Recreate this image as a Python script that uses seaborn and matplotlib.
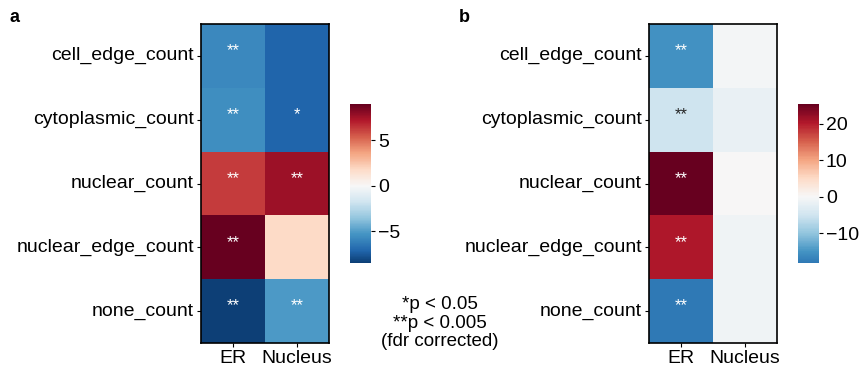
import numpy as np
import pandas as pd
import matplotlib
matplotlib.use("Agg")
import matplotlib.pyplot as plt
import seaborn as sns

rows = ["cell_edge_count", "cytoplasmic_count", "nuclear_count", "nuclear_edge_count", "none_count"]
cols = ["ER", "Nucleus"]

a_er = [-5.8, -5.6, 6.3, 9.0, -8.5]
a_nuc = [-7.2, -7.2, 7.7, 1.8, -5.1]
a_sig_er = ["**", "**", "**", "**", "**"]
a_sig_nuc = ["", "*", "**", "", "**"]
a_cticks = [-5, 0, 5]

b_er = [-15.2, -5.1, 25.4, 20.3, -18.2]
b_nuc = [-0.5, -2.0, 0.1, -1.0, -1.0]
b_sig_er = ["**", "**", "**", "**", "**"]
b_sig_nuc = ["", "", "", "", ""]
b_cticks = [-10, 0, 10, 20]

sns.set_style("ticks")
plt.rcParams.update({
    "font.family": ["Liberation Sans", "DejaVu Sans"],
    "text.color": "black", "axes.labelcolor": "black",
    "xtick.color": "black", "ytick.color": "black",
})

W, H = 862, 367
fig = plt.figure(figsize=(W / 100, H / 100), dpi=100)

def px(x0, y0, x1, y1):
    return [x0 / W, 1 - y1 / H, (x1 - x0) / W, (y1 - y0) / H]

def panel(ax_rect, cb_rect, er, nuc, sig_er, sig_nuc, cticks, label, lx, ly):
    ax = fig.add_axes(px(*ax_rect))
    cax = fig.add_axes(px(*cb_rect))
    df = pd.DataFrame({"ER": er, "Nucleus": nuc}, index=rows)
    ann = np.array([sig_er, sig_nuc]).T
    sns.heatmap(df, ax=ax, cbar_ax=cax, cmap="RdBu_r", center=0,
                annot=ann, fmt="", annot_kws={"fontsize": 12},
                cbar_kws={"ticks": cticks})
    for t in ax.texts:
        x, y = t.get_position()
        t.set_position((x, y - 0.08))
    for s in ax.spines.values():
        s.set_visible(True)
        s.set_linewidth(1.2)
        s.set_color("black")
    ax.tick_params(axis="both", labelsize=14, length=3, width=0.8, pad=2)
    ax.set_yticklabels(rows, rotation=0)
    ax.set_xticklabels(cols, rotation=0)
    cax.tick_params(labelsize=14, length=3, width=0.8, pad=2)
    fig.text(lx / W, 1 - ly / H, label, fontsize=13, fontweight="bold", ha="left", va="center")
    return ax

panel((201, 24, 329, 343), (350, 104, 371, 263), a_er, a_nuc, a_sig_er, a_sig_nuc, a_cticks, "a", 10, 18)
panel((649, 24, 777, 343), (798, 104, 819, 263), b_er, b_nuc, b_sig_er, b_sig_nuc, b_cticks, "b", 459, 18)

fig.text(440 / W, 1 - 323 / H, "*p < 0.05\n**p < 0.005\n(fdr corrected)", fontsize=13.5,
         ha="center", va="center", linespacing=1.15)

fig.savefig("out.png", dpi=100)
